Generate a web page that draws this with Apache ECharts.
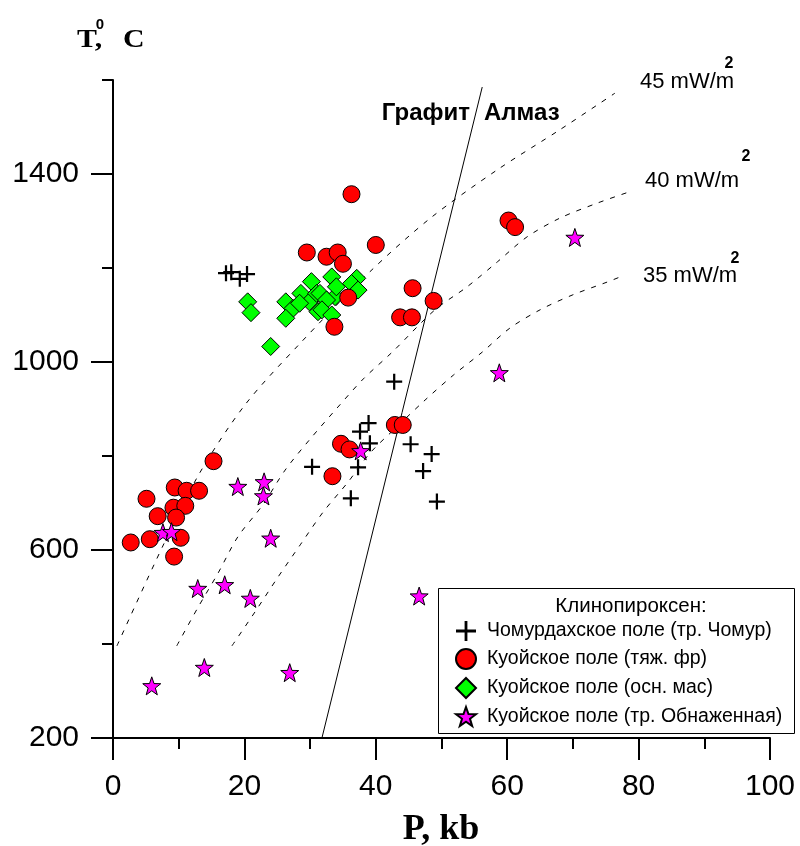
<!DOCTYPE html>
<html>
<head>
<meta charset="utf-8">
<script src="https://cdn.jsdelivr.net/npm/echarts@6/dist/echarts.min.js"></script>
<style>
  html, body { margin: 0; padding: 0; background: #ffffff; }
  #chart { width: 800px; height: 846px; }
</style>
</head>
<body>
<div id="chart"></div>
<script>
// Axis ticks: long ticks carry labels, short ticks sit halfway between them
const pressureMajorTicks = [0, 20, 40, 60, 80, 100];
const pressureMinorTicks = [10, 30, 50, 70, 90];
const tempMajorTicks = [200, 600, 1000, 1400];
const tempMinorTicks = [400, 800, 1200, 1600];

// Series names (legend order)
const seriesNames = [
  'Чомурдахское поле (тр. Чомур)',
  'Куойское поле (тяж. фр)',
  'Куойское поле (осн. мас)',
  'Куойское поле (тр. Обнаженная)'
];

// Clinopyroxene P (kb), T (°C)
const chomurPoints = [
  [17.2, 1189], [18.0, 1191], [19.3, 1177], [20.4, 1187],
  [42.8, 958], [38.9, 870], [37.6, 852], [39.1, 827], [45.3, 825],
  [48.5, 804], [30.3, 777], [37.3, 776], [47.2, 768], [36.2, 710], [49.3, 703]
];

const heavyFractionPoints = [
  [36.3, 1357], [40.0, 1249], [29.5, 1233], [32.5, 1224], [34.2, 1233],
  [35.0, 1209], [35.8, 1137], [33.7, 1075], [45.6, 1157], [48.8, 1130],
  [43.7, 1095], [45.5, 1095], [60.2, 1301], [61.2, 1287],
  [42.9, 866], [44.1, 866], [34.7, 826], [36.0, 814], [33.4, 757],
  [15.3, 789], [5.1, 709], [9.4, 733], [11.2, 726], [13.1, 726],
  [9.2, 690], [11.0, 694], [6.8, 672], [9.6, 669], [2.7, 616],
  [5.6, 623], [10.3, 626], [9.3, 586]
];

const groundmassPoints = [
  [20.5, 1128], [21.0, 1105], [24.0, 1033], [26.3, 1128], [27.4, 1114],
  [26.3, 1093], [28.6, 1146], [30.2, 1171], [29.9, 1128], [31.0, 1146],
  [31.2, 1107], [33.3, 1181], [37.1, 1178], [36.3, 1167], [31.5, 1146],
  [33.8, 1139], [32.5, 1132], [31.8, 1111], [33.3, 1100], [34.0, 1160],
  [37.3, 1153], [28.4, 1125]
];

const obnazhennayaPoints = [
  [70.3, 1265], [58.8, 977], [37.7, 811], [19.0, 735], [23.0, 745],
  [22.9, 715], [7.6, 637], [8.9, 639], [24.0, 625], [12.9, 518],
  [17.0, 526], [20.9, 497], [13.9, 350], [5.9, 311], [26.9, 339], [46.6, 502]
];

// Conductive geotherms (surface heat flow, mW/m2)
const geotherm45 = [
  [0.6, 396], [7.5, 606], [13.2, 764], [20.1, 909], [28.5, 1040],
  [39.1, 1192], [48.3, 1306], [58.5, 1409], [68.0, 1494], [76.4, 1572]
];
const geotherm40 = [
  [9.7, 396], [12.9, 477], [16.0, 551], [19.0, 628], [22.8, 696],
  [26.2, 770], [30.0, 836], [34.1, 902], [38.1, 964], [42.5, 1021],
  [49.0, 1111], [53.9, 1160], [58.5, 1213], [63.0, 1266], [68.0, 1306],
  [73.7, 1338], [79.0, 1364]
];
const geotherm35 = [
  [18.1, 396], [21.6, 468], [25.0, 540], [28.5, 611], [32.0, 681],
  [35.8, 745], [39.1, 806], [43.2, 862], [47.5, 919], [51.8, 972],
  [56.2, 1021], [60.4, 1072], [65.0, 1111], [70.0, 1143], [75.2, 1170], [77.9, 1185]
];
const geothermLabels = ['45 mW/m', '40 mW/m', '35 mW/m'];

// Graphite–diamond equilibrium
const graphiteDiamond = [[31.8, 200], [56.2, 1585]];

const SANS = 'Arial, "Liberation Sans", sans-serif';
const SERIF = '"Times New Roman", "Liberation Serif", serif';

const plusPath = 'path://M4.3,0H5.7V4.3H10V5.7H5.7V10H4.3V5.7H0V4.3H4.3Z';
const starPath = 'path://M50,0L61.8,33.8L97.6,34.5L69.1,56.2L79.4,90.5L50,70.1L20.6,90.5L30.9,56.2L2.4,34.5L38.2,33.8Z';

const chart = echarts.init(document.getElementById('chart'), null, { renderer: 'canvas' });

const geothermStyle = { color: '#000', width: 1, type: [5, 7] };

function geothermSeries(data) {
  return {
    type: 'line', data, showSymbol: false, smooth: 0.3, silent: true,
    lineStyle: geothermStyle, z: 1
  };
}

const axisLineStyle = { color: '#000', width: 2 };
const plainNumber = v => String(v);

// bold serif used for the axis titles
function titleText(text, x, y, size, align, stretch) {
  return {
    type: 'text', x, y, scaleX: stretch,
    style: { text, fontFamily: SERIF, fontWeight: 'bold', fontSize: size, fill: '#000', textAlign: align, textVerticalAlign: 'middle' }
  };
}

const option = {
  animation: false,
  backgroundColor: '#ffffff',
  grid: { left: 113, right: 30, top: 80, bottom: 108, containLabel: false, outerBoundsMode: 'none' },
  xAxis: [
    {
      type: 'value', min: 0, max: 100,
      axisLine: { show: true, onZero: false, lineStyle: axisLineStyle },
      axisTick: { show: true, length: 22, lineStyle: axisLineStyle, customValues: pressureMajorTicks },
      axisLabel: { show: true, margin: 34, fontSize: 30, fontFamily: SANS, color: '#000', customValues: pressureMajorTicks, formatter: plainNumber },
      splitLine: { show: false }
    },
    {
      type: 'value', min: 0, max: 100, position: 'bottom', gridIndex: 0,
      axisLine: { show: false, onZero: false },
      axisTick: { show: true, length: 11, lineStyle: axisLineStyle, customValues: pressureMinorTicks },
      axisLabel: { show: false },
      splitLine: { show: false }
    }
  ],
  yAxis: [
    {
      type: 'value', min: 200, max: 1600,
      axisLine: { show: true, onZero: false, lineStyle: axisLineStyle },
      axisTick: { show: true, length: 22, lineStyle: axisLineStyle, customValues: tempMajorTicks },
      axisLabel: { show: true, margin: 34, fontSize: 30, fontFamily: SANS, color: '#000', customValues: tempMajorTicks, formatter: plainNumber },
      splitLine: { show: false }
    },
    {
      type: 'value', min: 200, max: 1600, position: 'left', gridIndex: 0,
      axisLine: { show: false, onZero: false },
      axisTick: { show: true, length: 11, lineStyle: axisLineStyle, customValues: tempMinorTicks },
      axisLabel: { show: false },
      splitLine: { show: false }
    }
  ],
  legend: {
    data: seriesNames,
    orient: 'vertical',
    left: 455, top: 621,
    padding: 0,
    itemWidth: 20, itemHeight: 20, itemGap: 7,
    textStyle: { fontSize: 19.5, fontFamily: SANS, color: '#000', padding: [0, 0, 0, 6] },
    selectedMode: false
  },
  series: [
    geothermSeries(geotherm45),
    geothermSeries(geotherm40),
    geothermSeries(geotherm35),
    {
      type: 'line', data: graphiteDiamond, showSymbol: false, silent: true,
      lineStyle: { color: '#000', width: 1 }, z: 1
    },
    {
      name: seriesNames[2], type: 'scatter', data: groundmassPoints,
      symbol: 'diamond', symbolSize: 18,
      itemStyle: { color: '#00ff00', borderColor: '#000', borderWidth: 1, opacity: 1 }
    },
    {
      name: seriesNames[1], type: 'scatter', data: heavyFractionPoints,
      symbol: 'circle', symbolSize: 17,
      itemStyle: { color: '#ff0000', borderColor: '#000', borderWidth: 1, opacity: 1 }
    },
    {
      name: seriesNames[0], type: 'scatter', data: chomurPoints,
      symbol: plusPath, symbolSize: 16,
      itemStyle: { color: '#000', borderWidth: 0, opacity: 1 }
    },
    {
      name: seriesNames[3], type: 'scatter', data: obnazhennayaPoints,
      symbol: starPath, symbolSize: 18,
      itemStyle: { color: '#ff00ff', borderColor: '#000', borderWidth: 1, opacity: 1 }
    }
  ],
  graphic: [
    // y-axis title T°, C
    titleText('T,', 77, 40, 26, 'left', 1.15),
    { type: 'text', x: 100, y: 25, style: { text: '0', fontFamily: SANS, fontWeight: 'bold', fontSize: 15, fill: '#000', textAlign: 'center', textVerticalAlign: 'middle' } },
    titleText('C', 123, 40, 26, 'left', 1.15),
    // x-axis title
    titleText('P, kb', 441, 830, 36, 'center', 1),
    // phase labels either side of the graphite–diamond line
    { type: 'text', x: 470, y: 113, style: { text: 'Графит', fontFamily: SANS, fontWeight: 'bold', fontSize: 24, fill: '#000', textAlign: 'right', textVerticalAlign: 'middle' } },
    { type: 'text', x: 484, y: 113, style: { text: 'Алмаз', fontFamily: SANS, fontWeight: 'bold', fontSize: 24, fill: '#000', textAlign: 'left', textVerticalAlign: 'middle' } },
    // geotherm labels
    { type: 'text', x: 640, y: 82, style: { text: geothermLabels[0], fontFamily: SANS, fontSize: 22, fill: '#000', textVerticalAlign: 'middle' } },
    { type: 'text', x: 729, y: 64, style: { text: '2', fontFamily: SANS, fontWeight: 'bold', fontSize: 16, fill: '#000', textAlign: 'center', textVerticalAlign: 'middle' } },
    { type: 'text', x: 645, y: 181, style: { text: geothermLabels[1], fontFamily: SANS, fontSize: 22, fill: '#000', textVerticalAlign: 'middle' } },
    { type: 'text', x: 746, y: 157, style: { text: '2', fontFamily: SANS, fontWeight: 'bold', fontSize: 16, fill: '#000', textAlign: 'center', textVerticalAlign: 'middle' } },
    { type: 'text', x: 643, y: 276, style: { text: geothermLabels[2], fontFamily: SANS, fontSize: 22, fill: '#000', textVerticalAlign: 'middle' } },
    { type: 'text', x: 735, y: 259, style: { text: '2', fontFamily: SANS, fontWeight: 'bold', fontSize: 16, fill: '#000', textAlign: 'center', textVerticalAlign: 'middle' } },
    // legend frame and heading
    { type: 'rect', z: 0, shape: { x: 438.5, y: 588.5, width: 356, height: 145 }, style: { fill: '#ffffff', stroke: '#000', lineWidth: 1 } },
    { type: 'text', z: 1, x: 631, y: 606, style: { text: 'Клинопироксен:', fontFamily: SANS, fontSize: 20.5, fill: '#000', textAlign: 'center', textVerticalAlign: 'middle' } }
  ]
};

chart.setOption(option);
</script>
</body>
</html>
